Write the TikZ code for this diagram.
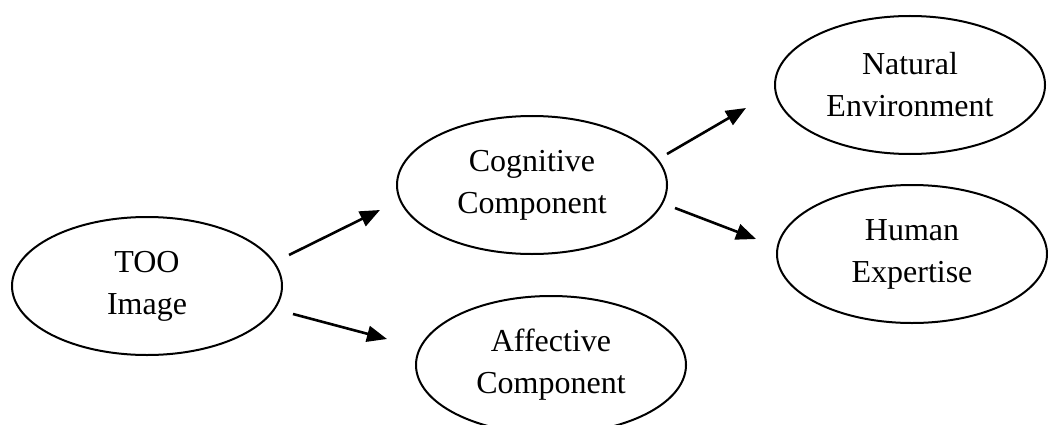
\documentclass[tikz,border=0pt]{standalone}
\usepackage{fontspec}
\setmainfont{Liberation Serif}
\usetikzlibrary{arrows.meta,shapes.geometric}
\begin{document}
\begin{tikzpicture}[x=1pt,y=-1pt,
  oval/.style={draw=black,line width=2pt,ellipse,minimum width=270pt,minimum height=138pt,inner sep=0pt,align=center,font=\fontsize{32}{42}\selectfont},
  arr/.style={line width=2.6pt,-{Triangle[length=20pt,width=16pt]}}]
\useasboundingbox (0,0) rectangle (1048,425);
\node[oval] (too) at (147,286) {TOO\\Image};
\node[oval] (cog) at (532,185) {Cognitive\\Component};
\node[oval] (aff) at (551,365) {Affective\\Component};
\node[oval] (nat) at (910,85) {Natural\\Environment};
\node[oval] (hum) at (912,254) {Human\\Expertise};
\coordinate (a1s) at (289,255);
\coordinate (a1e) at (380,210);
\coordinate (a2s) at (293,314);
\coordinate (a2e) at (387,339);
\coordinate (a3s) at (667,154);
\coordinate (a3e) at (746,108);
\coordinate (a4s) at (675,208);
\coordinate (a4e) at (756,239);
\draw[arr] (a1s) -- (a1e);
\draw[arr] (a2s) -- (a2e);
\draw[arr] (a3s) -- (a3e);
\draw[arr] (a4s) -- (a4e);
\end{tikzpicture}
\end{document}
